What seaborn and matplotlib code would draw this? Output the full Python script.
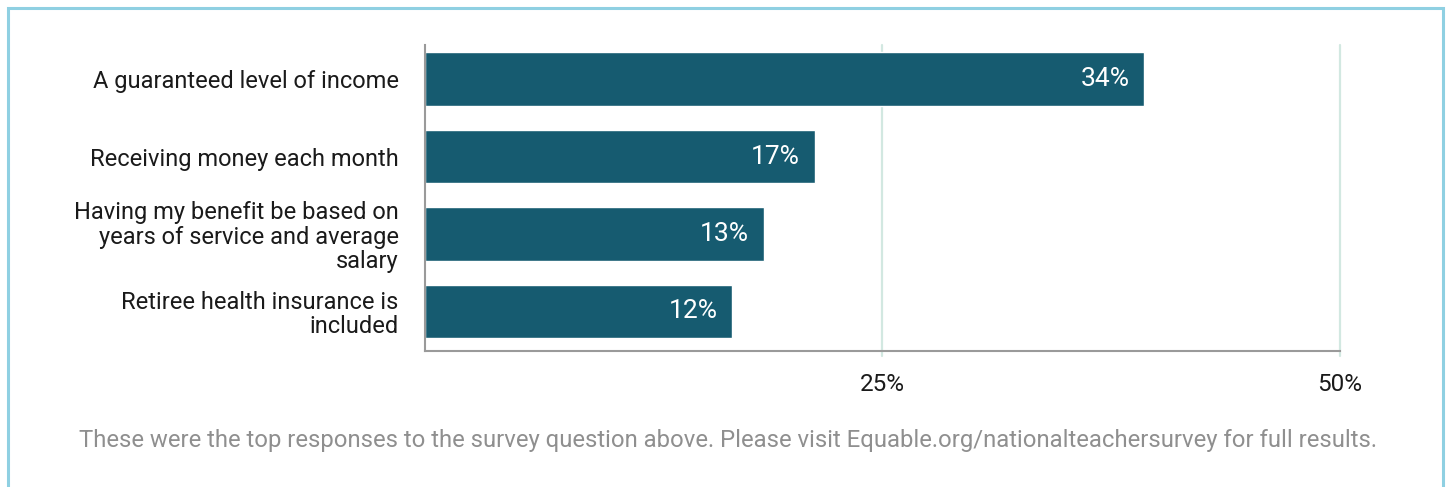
import matplotlib
matplotlib.use("Agg")
import matplotlib.pyplot as plt
import seaborn as sns
import pandas as pd
from matplotlib.patches import Rectangle

categories = [
    "A guaranteed level of income",
    "Receiving money each month",
    "Having my benefit be based on\nyears of service and average\nsalary",
    "Retiree health insurance is\nincluded",
]
bar_lengths = [39.3, 21.3, 18.5, 16.8]   # bar ends as read against the axis
value_labels = ["34%", "17%", "13%", "12%"]
tick_values = [25, 50]
tick_labels = ["25%", "50%"]
footnote = ("These were the top responses to the survey question above. "
            "Please visit Equable.org/nationalteachersurvey for full results.")

sns.set_theme(style="white")
plt.rcParams["font.family"] = ["Roboto", "DejaVu Sans"]

df = pd.DataFrame({"cat": categories, "val": bar_lengths})

fig = plt.figure(figsize=(14.5, 4.87), dpi=100)
ax = fig.add_axes([0.2931, 0.2793, 0.6310, 0.6283])

sns.barplot(data=df, x="val", y="cat", orient="h", color="#165b70",
            saturation=1, width=0.69, ax=ax)

ax.set_xlim(0, 50)
ax.set_ylim(3.51, -0.44)
ax.set_xlabel("")
ax.set_ylabel("")

for xv in tick_values:
    ax.axvline(xv, ymin=-0.015, ymax=1, color="#d2e8e1", lw=1.6,
               clip_on=False, zorder=0)

ax.set_xticks(tick_values)
ax.set_xticklabels(tick_labels, fontsize=17.5, color="#1a1a1a")
ax.tick_params(axis="x", length=0, pad=16)
ax.tick_params(axis="y", length=0, pad=19, labelsize=17, labelcolor="#1a1a1a")
for lbl in ax.get_yticklabels():
    lbl.set_horizontalalignment("right")
    lbl.set_multialignment("right")
    lbl.set_linespacing(1.08)

for s in ["top", "right"]:
    ax.spines[s].set_visible(False)
for s in ["left", "bottom"]:
    ax.spines[s].set_color("#9a9a9a")
    ax.spines[s].set_linewidth(1.5)

for i, (v, t) in enumerate(zip(bar_lengths, value_labels)):
    ax.text(v - 0.8, i, t, ha="right", va="center", color="white",
            fontsize=19)

fig.text(0.5020, 0.096, footnote, ha="center", va="center",
         color="#8f8f8f", fontsize=17.2)

fig.patches.append(Rectangle((8 / 1450, -0.1), (1443 - 8) / 1450, 1.1 - 8 / 487,
                             transform=fig.transFigure, fill=False,
                             edgecolor="#8fd0e2", lw=2.2))

fig.savefig("out.png", dpi=100)
